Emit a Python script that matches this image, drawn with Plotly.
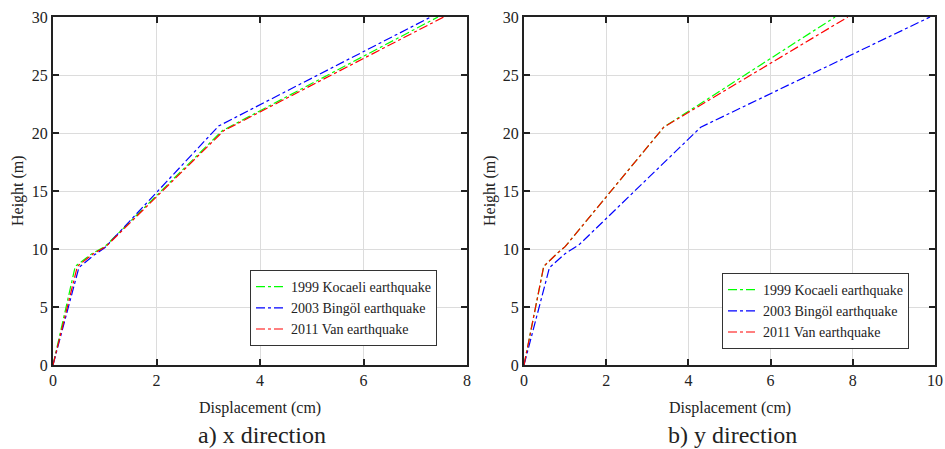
import plotly.graph_objects as go

# ---- data ----
names = ["1999 Kocaeli earthquake", "2003 Bingöl earthquake", "2011 Van earthquake"]
colors = ["#00ff00", "#0000ff", "#ff0000"]

# a) x direction
ax_kocaeli_x = [0, 0.43, 0.75, 1.0, 3.27, 7.44]
ax_kocaeli_y = [0, 8.5, 9.6, 10.2, 20.2, 30]
ax_bingol_x = [0, 0.5, 0.8, 1.0, 3.2, 7.3]
ax_bingol_y = [0, 8.4, 9.5, 10.1, 20.6, 30]
ax_van_x = [0, 0.47, 0.78, 1.02, 3.3, 7.55]
ax_van_y = [0, 8.5, 9.6, 10.2, 20.2, 30]

# b) y direction
by_kocaeli_x = [0, 0.48, 0.8, 1.0, 3.4, 7.57]
by_kocaeli_y = [0, 8.5, 9.6, 10.2, 20.5, 30]
by_bingol_x = [0, 0.62, 1.0, 1.35, 4.3, 9.88]
by_bingol_y = [0, 8.4, 9.6, 10.4, 20.5, 30]
by_van_x = [0, 0.48, 0.8, 1.0, 3.4, 7.88]
by_van_y = [0, 8.5, 9.6, 10.2, 20.5, 30]

left_ticks = [0, 2, 4, 6, 8]
right_ticks = [0, 2, 4, 6, 8, 10]
y_ticks = [0, 5, 10, 15, 20, 25, 30]

FONT = "Times New Roman, Liberation Serif, DejaVu Serif, serif"
W, H = 945, 449
ML, MR, MT, MB = 53, 10, 17, 84
PW = W - ML - MR
PH = H - MT - MB

def px(pix):
    return (pix - ML) / PW

def py(pix):
    return (H - MB - pix) / PH

fig = go.Figure()
left_series = [(ax_kocaeli_x, ax_kocaeli_y), (ax_bingol_x, ax_bingol_y), (ax_van_x, ax_van_y)]
right_series = [(by_kocaeli_x, by_kocaeli_y), (by_bingol_x, by_bingol_y), (by_van_x, by_van_y)]
for i, (xs, ys) in enumerate(left_series):
    fig.add_trace(go.Scatter(x=xs, y=ys, mode="lines", name=names[i],
                             line=dict(color=colors[i], width=1.2, dash="dashdot"),
                             xaxis="x", yaxis="y", legend="legend"))
for i, (xs, ys) in enumerate(right_series):
    fig.add_trace(go.Scatter(x=xs, y=ys, mode="lines", name=names[i],
                             line=dict(color=colors[i], width=1.2, dash="dashdot"),
                             xaxis="x2", yaxis="y2", legend="legend2"))

axis_common = dict(showline=True, linecolor="#222", linewidth=2, mirror="ticks",
                   ticks="inside", ticklen=6, tickcolor="#222", tickwidth=2,
                   showgrid=True, gridcolor="#dcdcdc", gridwidth=1, zeroline=False,
                   automargin=False,
                   tickfont=dict(family=FONT, size=16, color="#222"))

fig.update_layout(
    width=W, height=H,
    margin=dict(l=ML, r=MR, t=MT, b=MB, autoexpand=False),
    paper_bgcolor="white", plot_bgcolor="white",
    font=dict(family=FONT, color="#222"),
    xaxis=dict(domain=[px(53), px(467)], range=[0, 8], tickvals=left_ticks, anchor="y", **axis_common),
    yaxis=dict(domain=[0, 1], range=[0, 30], tickvals=y_ticks, anchor="x", **axis_common),
    xaxis2=dict(domain=[px(524), px(935)], range=[0, 10], tickvals=right_ticks, anchor="y2", **axis_common),
    yaxis2=dict(domain=[0, 1], range=[0, 30], tickvals=y_ticks, anchor="x2", **axis_common),
    legend=dict(x=px(250), y=py(270), xanchor="left", yanchor="top",
                bordercolor="#333", borderwidth=1, bgcolor="white",
                font=dict(family=FONT, size=14, color="#222"), tracegroupgap=0, itemwidth=30),
    legend2=dict(x=px(722), y=py(273), xanchor="left", yanchor="top",
                 bordercolor="#333", borderwidth=1, bgcolor="white",
                 font=dict(family=FONT, size=14, color="#222"), tracegroupgap=0, itemwidth=30),
    showlegend=True,
)

annots = [
    dict(text="Displacement (cm)", x=px(260), y=py(408), size=16, angle=0),
    dict(text="a) x direction", x=px(262), y=py(435), size=24, angle=0),
    dict(text="Displacement (cm)", x=px(730), y=py(408), size=16, angle=0),
    dict(text="b) y direction", x=px(732), y=py(435), size=24, angle=0),
    dict(text="Height (m)", x=px(18), y=py(191), size=16, angle=-90),
    dict(text="Height (m)", x=px(490), y=py(191), size=16, angle=-90),
]
for a in annots:
    fig.add_annotation(text=a["text"], x=a["x"], y=a["y"], xref="paper", yref="paper",
                       showarrow=False, xanchor="center", yanchor="middle", textangle=a["angle"],
                       font=dict(family=FONT, size=a["size"], color="#222"))

fig.write_html("out.html")
